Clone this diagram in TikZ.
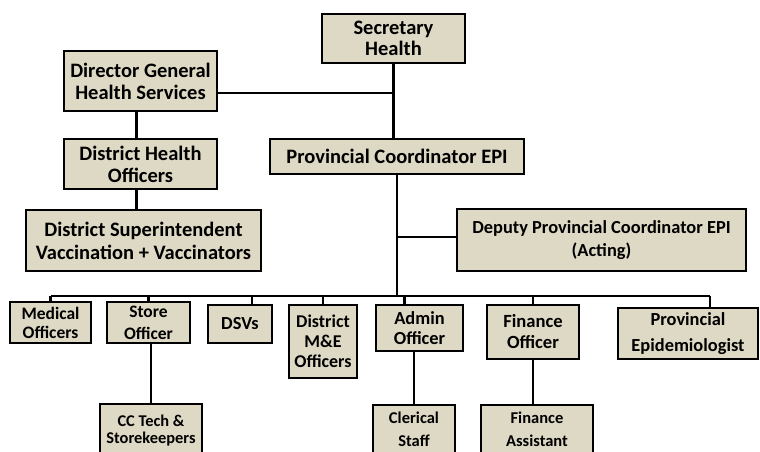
\documentclass[tikz,border=0pt]{standalone}
\usepackage{fontspec}
\setmainfont{Carlito}
\definecolor{boxfill}{HTML}{DDD9C4}
\begin{document}
\begin{tikzpicture}[x=1pt,y=-1pt,
  box/.style={draw=black, line width=2.3pt, fill=boxfill, align=center, inner sep=0pt},
  big/.style={font=\bfseries\fontsize{20.5}{22}\selectfont},
  mid/.style={font=\bfseries\fontsize{18.4}{20}\selectfont},
  tiny/.style={font=\bfseries\fontsize{16.5}{23}\selectfont},
  link/.style={line width=2.2pt}]
\useasboundingbox (0,0) rectangle (760,451);
\clip (0,0) rectangle (760,451);
% top of the chart
\node[box,minimum width=143,minimum height=49,font=\bfseries\fontsize{20.5}{21}\selectfont] (sec) at (393.5,38.5) {Secretary\\Health};
\node[box,big,minimum width=153,minimum height=60] (dg) at (140.5,81) {Director General\\Health Services};
\node[box,big,minimum width=153,minimum height=50] (dho) at (140.5,164) {District Health\\Officers};
\node[box,minimum width=235,minimum height=61,font=\bfseries\fontsize{20.5}{23}\selectfont] (dsv) at (143.5,240.5) {District Superintendent\\Vaccination + Vaccinators};
\node[box,big,minimum width=254,minimum height=35] (pc) at (397,156.5) {Provincial Coordinator EPI};
\node[box,minimum width=289,minimum height=62,font=\bfseries\fontsize{18.4}{23}\selectfont] (dep) at (601.5,240) {Deputy Provincial Coordinator EPI\\(Acting)};
% second row
\node[box,minimum width=81,minimum height=41,font=\bfseries\fontsize{17.5}{19}\selectfont] (med) at (50.5,322.5) {Medical\\Officers};
\node[box,minimum width=83,minimum height=41,font=\bfseries\fontsize{17.5}{22}\selectfont] (store) at (148.5,322.5) {Store\\Officer};
\node[box,mid,minimum width=64,minimum height=38] (dsvs) at (240,324) {DSVs};
\node[box,minimum width=68,minimum height=73,font=\bfseries\fontsize{18}{20}\selectfont] (me) at (323,341.5) {District\\M\&E\\Officers};
\node[box,mid,minimum width=87,minimum height=46] (admin) at (419.5,328) {Admin\\Officer};
\node[box,minimum width=92,minimum height=54,font=\bfseries\fontsize{18.6}{21}\selectfont] (fin) at (533,332) {Finance\\Officer};
\node[box,minimum width=140,minimum height=51,font=\bfseries\fontsize{18.4}{26}\selectfont] (epi) at (688,333.5) {Provincial\\Epidemiologist};
% bottom row, cut by the page
\node[box,minimum width=102,minimum height=54,font=\bfseries\fontsize{16.4}{17}\selectfont] (cct) at (151,431) {CC Tech \&\\Storekeepers};
\node[box,tiny,minimum width=82,minimum height=48] (cler) at (414,429) {Clerical\\Staff};
\node[box,tiny,minimum width=112,minimum height=48] (fa) at (537,429) {Finance\\Assistant};
\coordinate (bus) at (397,296);
\coordinate (depj) at (397,237);
% links
\draw[link] (sec.south) -- (sec.south |- pc.north);
\draw[link] ([yshift=-12pt]dg.east) -- ([yshift=-12pt]dg.east -| sec.south);
\draw[link] ([xshift=-4pt]dg.south) -- ([xshift=-4pt]dho.north);
\draw[link] ([xshift=-4pt]dho.south) -- ([xshift=-7pt]dsv.north);
\draw[link] (pc.south) -- (bus);
\draw[link] (depj) -- (depj -| dep.west);
\draw[link] (med.north |- bus) -- ([xshift=22pt]epi.north |- bus);
\foreach \n/\dx in {med/0,store/0,dsvs/12,me/0,admin/-15,fin/0,epi/22}
  \draw[link] ([xshift=\dx pt]\n.north) -- ([xshift=\dx pt]\n.north |- bus);
\draw[link] (store.south -| cct.north) -- (cct.north);
\draw[link] (admin.south -| cler.north) -- (cler.north);
\draw[link] (fin.south) -- (fin.south |- fa.north);
\end{tikzpicture}
\end{document}
